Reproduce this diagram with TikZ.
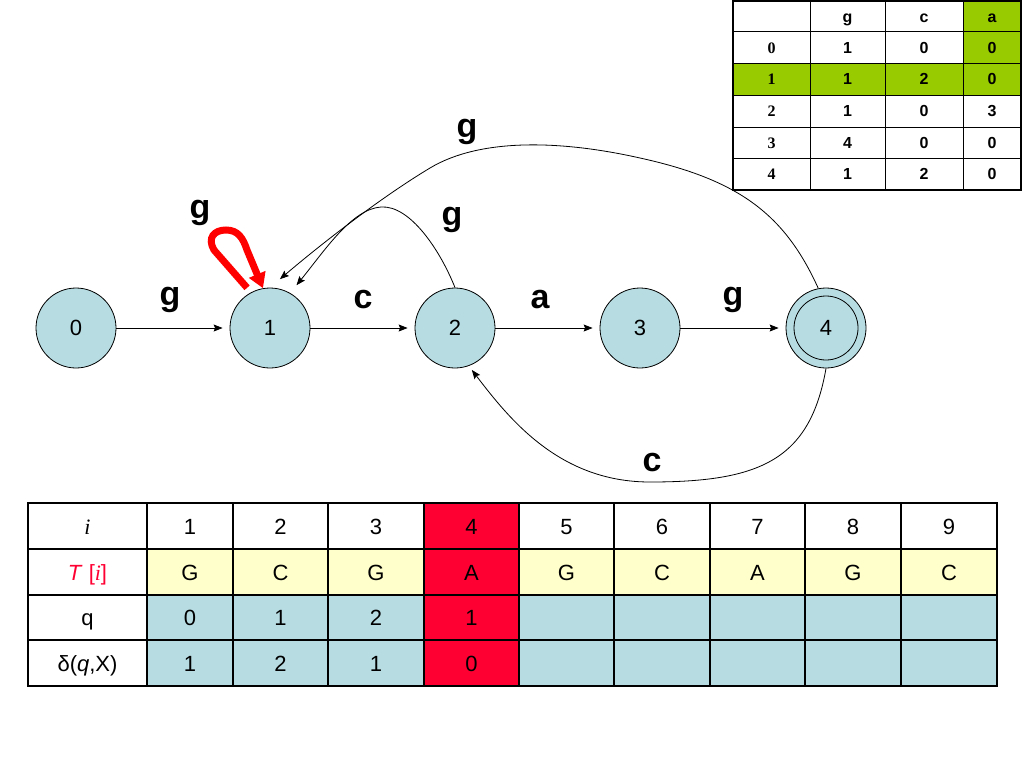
\documentclass[tikz,border=0pt]{standalone}
\usepackage{fontspec}
\setmainfont{Liberation Sans}
\newfontfamily\serifx{Liberation Serif}
\usetikzlibrary{arrows.meta}
\definecolor{nodeblue}{RGB}{183,221,227}
\definecolor{cellgreen}{RGB}{153,204,0}
\definecolor{cellyellow}{RGB}{255,255,204}
\definecolor{cellred}{RGB}{255,0,51}
\definecolor{loopred}{RGB}{255,0,0}
\begin{document}
\begin{tikzpicture}[x=1pt,y=-1pt,
  state/.style={circle, draw, line width=0.8pt, fill=nodeblue, minimum size=80pt, inner sep=0pt, font=\fontsize{22}{26}\selectfont},
  edgelbl/.style={font=\bfseries\fontsize{34}{40}\selectfont, inner sep=0pt},
  trans/.style={-{Stealth[length=9pt,width=7pt,inset=1.5pt]}, line width=0.8pt},
  bcell/.style={font=\fontsize{22}{26}\selectfont, inner sep=0pt, text height=16pt, text depth=0pt},
  tcell/.style={font=\bfseries\fontsize{16}{19}\selectfont, inner sep=0pt, text height=11.5pt, text depth=0pt}]
\useasboundingbox (0,0) rectangle (1024,768);
\fill[white] (0,0) rectangle (1024,768);

% states
\node[state] (n0) at (76,328) {0};
\node[state] (n1) at (270,328) {1};
\node[state] (n2) at (455,328) {2};
\node[state] (n3) at (640,328) {3};
\node[state] (n4) at (826,328) {4};
\draw[line width=0.8pt] (n4.center) circle[radius=32pt];

% straight transitions
\draw[trans, shorten >=7pt] (n0) -- (n1);
\draw[trans, shorten >=7pt] (n1) -- (n2);
\draw[trans, shorten >=7pt] (n2) -- (n3);
\draw[trans, shorten >=7pt] (n3) -- (n4);

% curved transitions
\draw[trans, shorten >=13pt] (n4.101) .. controls (785,215) and (740,180) .. (640,158)
  .. controls (560,140) and (480,138) .. (430,168)
  .. controls (380,198) and (320,245) .. (n1.90);
\draw[trans, shorten >=10pt] (n2.90) .. controls (440,250) and (410,205) .. (381,207)
  .. controls (352,209) and (325,250) .. (n1.60);
\draw[trans, shorten >=5pt] (n4.south) .. controls (810,460) and (760,482) .. (650,482)
  .. controls (560,482) and (510,420) .. (n2.-70);

% red self loop
\draw[loopred, line width=7pt, shorten <=6pt, -{Triangle[length=15pt,width=17pt]}]
  (n1.118) -- (214,250) .. controls (207,238) and (214,230) .. (226,230)
  .. controls (238,230) and (243,238) .. (247,250) -- (n1.100);

% edge labels
\node[edgelbl] (lg0) at (200,213) {g};
\node[edgelbl] (lg1) at (170,300) {g};
\node[edgelbl] (lc1) at (363,300) {c};
\node[edgelbl] (la2) at (540,300) {a};
\node[edgelbl] (lg3) at (733,300) {g};
\node[edgelbl] (lg4) at (452,220) {g};
\node[edgelbl] (lg5) at (467,132) {g};
\node[edgelbl] (lc4) at (652,463) {c};

% top-right transition table
\fill[white] (733,1) rectangle (1021,190);
\fill[cellgreen] (963,1) rectangle (1021,63);
\fill[cellgreen] (733,63) rectangle (1021,95);
\foreach \yy in {32,63,95,127,158}
  \draw[line width=1pt] (733,\yy) -- (1021,\yy);
\foreach \xx in {810,885,963}
  \draw[line width=1pt] (\xx,1) -- (\xx,190);
\draw[line width=2.5pt] (733,1) rectangle (1021,190);
\node[tcell] (th1) at (847.5,16.5) {g};
\node[tcell] (th2) at (924,16.5) {c};
\node[tcell] (th3) at (992,16.5) {a};
\foreach \r/\yy/\g/\c/\a in {0/47.5/1/0/0, 1/79/1/2/0, 2/111/1/0/3, 3/142.5/4/0/0, 4/174/1/2/0}{
  \node[tcell, font=\serifx\bfseries\fontsize{16}{19}\selectfont] (tr\r) at (771.5,\yy) {\r};
  \node[tcell] (tg\r) at (847.5,\yy) {\g};
  \node[tcell] (tc\r) at (924,\yy) {\c};
  \node[tcell] (ta\r) at (992,\yy) {\a};
}

% bottom table
\fill[white] (28,503) rectangle (997,686);
\fill[cellyellow] (147,549) rectangle (997,595);
\fill[nodeblue] (147,595) rectangle (997,686);
\fill[cellred] (424,503) rectangle (519,686);
\foreach \yy in {549,595,640}
  \draw[line width=1.3pt] (28,\yy) -- (997,\yy);
\foreach \xx in {147,233,328,424,519,614,710,805,901}
  \draw[line width=1.3pt] (\xx,503) -- (\xx,686);
\draw[line width=2.5pt] (28,503) rectangle (997,686);

\node[bcell] (hi) at (87.5,526) {\serifx\itshape i};
\node[bcell, text=cellred] (ht) at (87.5,572) {\textit{T} [{\serifx\itshape i}]};
\node[bcell] (hq) at (87.5,617.5) {q};
\node[bcell] (hd) at (87.5,663) {δ(\textit{q},X)};
\foreach \k/\xx/\t in {1/190/G, 2/280.5/C, 3/376/G, 4/471.5/A, 5/566.5/G, 6/662/C, 7/757.5/A, 8/853/G, 9/949/C}{
  \node[bcell] (bi\k) at (\xx,526) {\k};
  \node[bcell] (bt\k) at (\xx,572) {\t};
}
\foreach \k/\xx/\q/\d in {1/190/0/1, 2/280.5/1/2, 3/376/2/1, 4/471.5/1/0}{
  \node[bcell] (bq\k) at (\xx,617.5) {\q};
  \node[bcell] (bd\k) at (\xx,663) {\d};
}
\end{tikzpicture}
\end{document}
